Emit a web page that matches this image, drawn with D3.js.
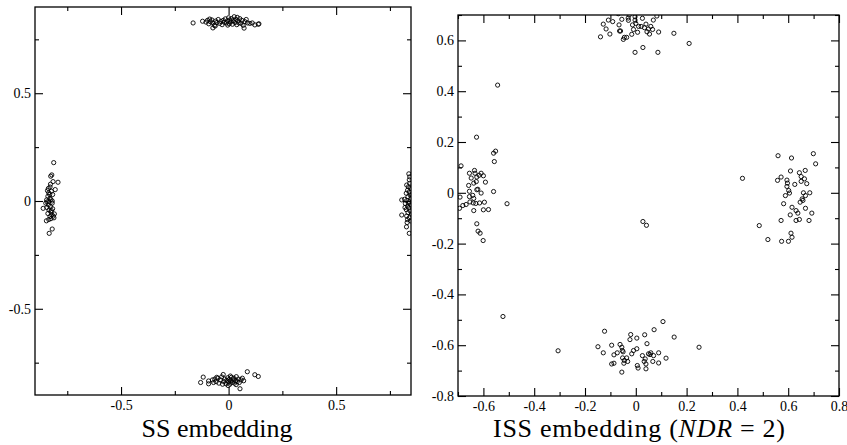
<!DOCTYPE html>
<html>
<head>
<meta charset="utf-8">
<script src="https://cdn.jsdelivr.net/npm/d3@7"></script>
</head>
<body style="margin:0">
<svg id="chart" width="847" height="445"></svg>
<script>
// SS embedding clusters
var ssTop = [[-0.165,0.826],[-0.121,0.834],[-0.105,0.830],[-0.098,0.838],[-0.092,0.822],[-0.085,0.832],[-0.078,0.840],[-0.072,0.826],[-0.066,0.815],[-0.060,0.835],[-0.055,0.828],[-0.048,0.842],[-0.042,0.824],[-0.036,0.833],[-0.030,0.818],[-0.025,0.838],[-0.020,0.829],[-0.015,0.845],[-0.010,0.826],[-0.005,0.836],[0.000,0.850],[0.003,0.822],[0.006,0.840],[0.010,0.831],[0.014,0.846],[0.018,0.820],[0.022,0.836],[0.026,0.855],[0.030,0.828],[0.034,0.842],[0.038,0.818],[0.043,0.836],[0.048,0.826],[0.052,0.846],[0.058,0.824],[0.062,0.838],[0.068,0.815],[0.072,0.802],[0.076,0.832],[0.082,0.842],[0.088,0.826],[0.099,0.824],[0.110,0.826],[0.122,0.817],[0.138,0.820],[0.141,0.822],[-0.062,0.812],[-0.004,0.816],[0.040,0.852],[-0.088,0.844],[-0.073,0.803]];
var ssBottom = [[-0.130,-0.842],[-0.118,-0.817],[-0.093,-0.835],[-0.093,-0.848],[-0.075,-0.830],[-0.064,-0.826],[-0.058,-0.838],[-0.050,-0.822],[-0.045,-0.845],[-0.038,-0.830],[-0.032,-0.816],[-0.025,-0.805],[-0.022,-0.838],[-0.018,-0.826],[-0.012,-0.848],[-0.008,-0.832],[-0.004,-0.820],[0.000,-0.840],[0.003,-0.828],[0.006,-0.850],[0.010,-0.835],[0.013,-0.818],[0.016,-0.842],[0.020,-0.830],[0.024,-0.822],[0.028,-0.845],[0.032,-0.834],[0.036,-0.815],[0.040,-0.838],[0.045,-0.826],[0.050,-0.842],[0.053,-0.871],[0.058,-0.830],[0.064,-0.822],[0.070,-0.834],[0.087,-0.792],[0.122,-0.806],[0.138,-0.814],[-0.070,-0.842],[-0.028,-0.850],[0.008,-0.812],[-0.055,-0.818],[0.035,-0.852],[-0.002,-0.856]];
var ssLeft = [[-0.813,0.178],[-0.822,0.121],[-0.827,0.115],[-0.816,0.090],[-0.793,0.087],[-0.806,0.053],[-0.830,0.065],[-0.842,0.048],[-0.836,0.038],[-0.824,0.045],[-0.818,0.030],[-0.840,0.022],[-0.830,0.012],[-0.846,0.005],[-0.836,-0.002],[-0.826,0.006],[-0.820,-0.010],[-0.850,-0.010],[-0.838,-0.018],[-0.828,-0.025],[-0.862,-0.034],[-0.845,-0.030],[-0.818,-0.036],[-0.835,-0.042],[-0.826,-0.050],[-0.840,-0.058],[-0.822,-0.064],[-0.815,-0.070],[-0.830,-0.072],[-0.812,-0.078],[-0.826,-0.082],[-0.836,-0.086],[-0.847,-0.092],[-0.820,-0.130],[-0.834,-0.150],[-0.832,0.030],[-0.844,-0.004],[-0.824,-0.044],[-0.838,0.058],[-0.820,0.000],[-0.810,-0.060],[-0.828,0.078]];
var ssRight = [[0.838,0.126],[0.842,0.112],[0.840,0.098],[0.828,0.074],[0.836,0.066],[0.846,0.058],[0.832,0.050],[0.840,0.042],[0.826,0.036],[0.844,0.028],[0.834,0.020],[0.848,0.012],[0.805,0.005],[0.828,0.002],[0.840,-0.004],[0.822,-0.012],[0.846,-0.018],[0.832,-0.024],[0.838,-0.032],[0.826,-0.040],[0.844,-0.046],[0.834,-0.054],[0.805,-0.065],[0.828,-0.070],[0.840,-0.078],[0.832,-0.086],[0.846,-0.092],[0.827,-0.120],[0.840,-0.150],[0.850,-0.060],[0.818,0.008],[0.836,-0.010],[0.842,0.082],[0.830,-0.100],[0.852,0.030],[0.820,-0.030]];

// ISS embedding clusters
var issTop = [[-0.139,0.614],[-0.128,0.664],[-0.117,0.645],[-0.108,0.680],[-0.102,0.625],[-0.091,0.674],[-0.069,0.705],[-0.066,0.661],[-0.064,0.637],[-0.060,0.637],[-0.055,0.683],[-0.049,0.604],[-0.045,0.612],[-0.036,0.612],[-0.029,0.679],[-0.030,0.688],[-0.026,0.700],[-0.016,0.624],[-0.013,0.661],[-0.009,0.643],[-0.003,0.680],[-0.003,0.693],[-0.003,0.553],[0.000,0.667],[0.007,0.632],[0.011,0.655],[0.021,0.655],[0.026,0.687],[0.028,0.572],[0.034,0.650],[0.040,0.664],[0.044,0.634],[0.050,0.645],[0.054,0.625],[0.059,0.655],[0.066,0.643],[0.069,0.680],[0.083,0.696],[0.087,0.553],[0.090,0.633],[0.150,0.628],[0.210,0.588]];
var issLeft = [[-0.627,0.219],[-0.560,0.156],[-0.552,0.164],[-0.557,0.123],[-0.688,0.106],[-0.635,0.088],[-0.655,0.077],[-0.633,0.077],[-0.609,0.077],[-0.617,0.069],[-0.600,0.067],[-0.648,0.058],[-0.626,0.062],[-0.638,0.038],[-0.628,0.044],[-0.592,0.042],[-0.658,0.029],[-0.626,0.012],[-0.622,0.014],[-0.609,-0.001],[-0.655,0.006],[-0.560,0.005],[-0.642,-0.010],[-0.655,-0.015],[-0.692,-0.017],[-0.638,-0.022],[-0.668,-0.046],[-0.653,-0.036],[-0.640,-0.040],[-0.630,-0.042],[-0.615,-0.040],[-0.596,-0.037],[-0.507,-0.043],[-0.681,-0.050],[-0.694,-0.061],[-0.638,-0.070],[-0.600,-0.067],[-0.580,-0.066],[-0.626,-0.122],[-0.621,-0.151],[-0.613,-0.159],[-0.601,-0.188]];
var issRight = [[0.420,0.057],[0.560,0.146],[0.558,0.049],[0.572,0.062],[0.613,0.137],[0.609,0.086],[0.595,0.050],[0.597,0.038],[0.595,0.025],[0.602,0.009],[0.589,-0.011],[0.605,-0.001],[0.626,0.033],[0.644,0.079],[0.651,0.064],[0.651,0.045],[0.667,0.088],[0.664,0.055],[0.673,0.036],[0.660,0.000],[0.685,0.000],[0.668,-0.011],[0.655,-0.024],[0.658,-0.030],[0.647,-0.037],[0.582,-0.043],[0.615,-0.057],[0.631,-0.070],[0.638,-0.080],[0.668,-0.061],[0.693,-0.080],[0.608,-0.087],[0.572,-0.109],[0.631,-0.109],[0.644,-0.105],[0.682,-0.109],[0.486,-0.129],[0.611,-0.159],[0.615,-0.175],[0.520,-0.184],[0.574,-0.191],[0.601,-0.191],[0.699,0.154],[0.708,0.114]];
var issBottom = [[-0.123,-0.545],[-0.149,-0.606],[-0.128,-0.630],[-0.095,-0.600],[-0.095,-0.674],[-0.086,-0.671],[-0.086,-0.638],[-0.073,-0.630],[-0.062,-0.597],[-0.055,-0.608],[-0.053,-0.621],[-0.050,-0.626],[-0.052,-0.650],[-0.045,-0.660],[-0.047,-0.671],[-0.036,-0.650],[-0.032,-0.664],[-0.055,-0.706],[-0.023,-0.578],[-0.020,-0.558],[-0.016,-0.634],[-0.009,-0.621],[0.004,-0.572],[0.004,-0.614],[0.006,-0.680],[0.009,-0.690],[0.026,-0.641],[0.033,-0.664],[0.037,-0.654],[0.040,-0.674],[0.040,-0.693],[0.035,-0.559],[0.044,-0.594],[0.050,-0.634],[0.056,-0.637],[0.059,-0.630],[0.067,-0.664],[0.070,-0.641],[0.072,-0.539],[0.090,-0.630],[0.090,-0.670],[0.107,-0.507],[0.119,-0.651],[0.151,-0.568],[0.249,-0.608]];
var issStray = [[-0.544,0.424],[-0.523,-0.487],[-0.306,-0.622],[0.028,-0.113],[0.042,-0.128]];

// domains and ticks
var ssXDomain = [-0.9, 0.848], ssYDomain = [-0.9, 0.9];
var ssMajor = [-0.5, 0, 0.5], ssMinor = [-0.75, -0.25, 0.25, 0.75];
var issXDomain = [-0.7, 0.8], issYDomain = [-0.8, 0.7];
var issXMajor = [-0.6, -0.4, -0.2, 0, 0.2, 0.4, 0.6, 0.8], issXMinor = [-0.7, -0.5, -0.3, -0.1, 0.1, 0.3, 0.5, 0.7];
var issYMajor = [-0.8, -0.6, -0.4, -0.2, 0, 0.2, 0.4, 0.6], issYMinor = [-0.7, -0.5, -0.3, -0.1, 0.1, 0.3, 0.5, 0.7];

var FONT = "'Liberation Serif', 'Times New Roman', Times, serif";
var svg = d3.select("#chart");

var fmt = function(d){ return d === 0 ? "0" : String(d); };

var drawPanel = function(opt){
  var w = opt.right - opt.left, h = opt.bottom - opt.top;
  var g = svg.append("g").attr("transform", "translate(" + opt.left + "," + opt.top + ")");
  var x = d3.scaleLinear().domain(opt.xDomain).range([0, w]);
  var y = d3.scaleLinear().domain(opt.yDomain).range([h, 0]);

  g.append("clipPath").attr("id", opt.id + "clip")
    .append("rect").attr("width", w).attr("height", h);

  // ticks, all pointing inwards
  var axes = [
    {axis: d3.axisBottom(x), tr: "translate(0," + h + ")", major: opt.xMajor, minor: opt.xMinor, labels: true, pad: 5},
    {axis: d3.axisTop(x), tr: null, major: opt.xMajor, minor: opt.xMinor, labels: false, pad: 5},
    {axis: d3.axisLeft(y), tr: null, major: opt.yMajor, minor: opt.yMinor, labels: true, pad: 4},
    {axis: d3.axisRight(y), tr: "translate(" + w + ",0)", major: opt.yMajor, minor: opt.yMinor, labels: false, pad: 4}
  ];
  axes.forEach(function(a){
    var ga = g.append("g").attr("transform", a.tr)
      .call(a.axis.tickValues(a.major).tickSize(-8).tickPadding(a.pad)
        .tickFormat(a.labels ? fmt : ""));
    ga.attr("font-family", null).attr("font-size", null);
    ga.select(".domain").remove();
    ga.selectAll("text").style("font-family", FONT).style("font-size", "14px").attr("fill", "#000");
    var gm = g.append("g").attr("transform", a.tr)
      .call(a.axis.tickValues(a.minor).tickSize(-4).tickFormat(""));
    gm.select(".domain").remove();
  });
  g.selectAll(".tick line").attr("stroke", "#000").attr("stroke-width", 1.1);

  g.append("rect").attr("width", w).attr("height", h)
    .attr("fill", "none").attr("stroke", "#000").attr("stroke-width", 1.3);

  var pts = g.append("g").attr("clip-path", "url(#" + opt.id + "clip)");
  opt.clusters.forEach(function(c){
    pts.selectAll(null)
      .data(c)
      .enter()
      .append("circle")
      .attr("cx", function(d){ return x(d[0]); })
      .attr("cy", function(d){ return y(d[1]); })
      .attr("r", 2.1)
      .attr("fill", "none")
      .attr("stroke", "#000")
      .attr("stroke-width", 0.9);
  });
};

drawPanel({id: "ss", left: 35, right: 411, top: 7, bottom: 395,
  xDomain: ssXDomain, yDomain: ssYDomain,
  xMajor: ssMajor, xMinor: ssMinor, yMajor: ssMajor, yMinor: ssMinor,
  clusters: [ssTop, ssBottom, ssLeft, ssRight]});

drawPanel({id: "iss", left: 458, right: 839, top: 15, bottom: 396,
  xDomain: issXDomain, yDomain: issYDomain,
  xMajor: issXMajor, xMinor: issXMinor, yMajor: issYMajor, yMinor: issYMinor,
  clusters: [issTop, issLeft, issRight, issBottom, issStray]});

// captions
svg.append("text").attr("x", 217).attr("y", 437).attr("text-anchor", "middle")
  .style("font-family", FONT).style("font-size", "26px").text("SS embedding");

var cap = svg.append("text").attr("x", 639).attr("y", 437).attr("text-anchor", "middle")
  .attr("textLength", 292).attr("lengthAdjust", "spacing")
  .style("font-family", FONT).style("font-size", "26px");
cap.append("tspan").text("ISS embedding (");
cap.append("tspan").style("font-style", "italic").text("NDR");
cap.append("tspan").text(" = 2)");
</script>
</body>
</html>
